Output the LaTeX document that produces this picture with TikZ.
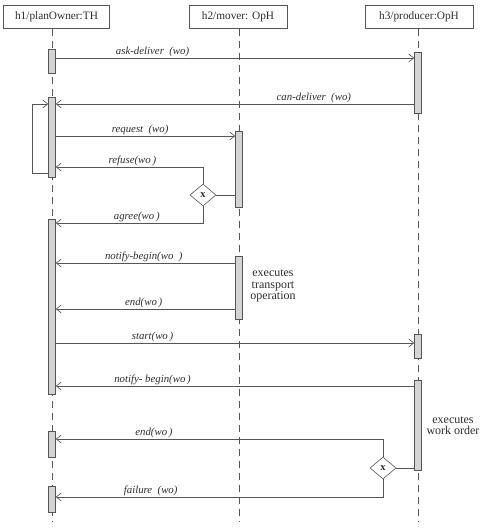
\documentclass[tikz,border=0pt]{standalone}
\usepackage{fontspec}
\setmainfont{Liberation Serif}
\usetikzlibrary{arrows.meta,shapes.geometric}
\definecolor{ln}{RGB}{85,85,85}
\definecolor{txt}{RGB}{45,45,45}
\definecolor{barfill}{RGB}{212,212,212}
\tikzset{
  hdr/.style={draw=ln, line width=0.7pt, inner sep=0pt, minimum height=23pt, font=\fontsize{11.3}{13}\selectfont, text=txt},
  life/.style={draw=ln, line width=0.7pt, dash pattern=on 7pt off 5pt},
  actbar/.style={draw=ln, fill=barfill, line width=0.6pt, minimum width=7pt, inner sep=0pt},
  msg/.style={draw=ln, line width=0.6pt, -{Straight Barb[length=5pt,width=8pt]}},
  plain/.style={draw=ln, line width=0.6pt},
  lbl/.style={font=\itshape\fontsize{10.8}{12}\selectfont, text=txt, inner sep=1pt},
  note/.style={font=\fontsize{12}{13}\selectfont, text=txt, align=center},
  choice/.style={shape=diamond, draw=ln, fill=white, line width=0.6pt, inner sep=0pt, minimum width=26pt, minimum height=22pt, font=\bfseries\fontsize{10.5}{10}\selectfont, text=txt}
}
\begin{document}
\begin{tikzpicture}[x=1pt,y=-1pt]
\useasboundingbox (0,0) rectangle (482,528);
% headers
\node[hdr, minimum width=106pt] (h1) at (56.5,17) {h1/planOwner:TH};
\node[hdr, minimum width=98pt] (h2) at (238,17) {h2/mover: OpH};
\node[hdr, minimum width=108pt] (h3) at (419,17) {h3/producer:OpH};
% lifeline ends
\coordinate (e1) at (52,522);
\coordinate (e2) at (239,522);
\coordinate (e3) at (418,522);
\draw[life] (h1.south -| e1) -- (e1);
\draw[life] (h2.south -| e2) -- (e2);
\draw[life] (h3.south -| e3) -- (e3);
% activation bars
\node[actbar, minimum height=24pt] (a1) at (52,61) {};
\node[actbar, minimum height=80pt] (a2) at (52,137) {};
\node[actbar, minimum height=175pt] (a3) at (52,306.5) {};
\node[actbar, minimum height=26pt] (a4) at (52,444) {};
\node[actbar, minimum height=26pt] (a5) at (52,499) {};
\node[actbar, minimum height=76pt] (b1) at (239,169) {};
\node[actbar, minimum height=63pt] (b2) at (239,287.5) {};
\node[actbar, minimum height=61pt] (c1) at (418,82.5) {};
\node[actbar, minimum height=24pt] (c2) at (418,346) {};
\node[actbar, minimum height=90pt] (c3) at (418,425) {};
% message rows
\coordinate (y1) at (0,58);
\coordinate (y2) at (0,104);
\coordinate (y3) at (0,136);
\coordinate (y4) at (0,167);
\coordinate (y5) at (0,223);
\coordinate (y6) at (0,263);
\coordinate (y7) at (0,309);
\coordinate (y8) at (0,343);
\coordinate (y9) at (0,386);
\coordinate (y10) at (0,439);
\coordinate (y11) at (0,497);
\coordinate (yl) at (0,173);
\coordinate (lx) at (32,0);
% choices
\node[choice] (d1) at (203,195) {x};
\node[choice] (d2) at (383,468) {x};
% messages
\draw[msg] (a1.east |- y1) -- node[lbl, above, pos=0.27] {ask-deliver~ (wo)} (c1.west |- y1);
\draw[msg] (c1.west |- y2) -- node[lbl, above, pos=0.28] {can-deliver~ (wo)} (a2.east |- y2);
\draw[msg] (a2.west |- yl) -- (lx |- yl) -- (lx |- y2) -- (a2.west |- y2);
\draw[msg] (a2.east |- y3) -- node[lbl, above, pos=0.47] {request~ (wo)} (b1.west |- y3);
\draw[plain] (d1.east) -- (b1.west |- d1.east);
\draw[msg] (d1.north) -- (d1.north |- y4) -- node[lbl, above, pos=0.48] {refuse(wo\,)} (a2.east |- y4);
\draw[msg] (d1.south) -- (d1.south |- y5) -- node[lbl, above, pos=0.45] {agree(wo\,)} (a3.east |- y5);
\draw[msg] (b2.west |- y6) -- node[lbl, above, pos=0.51] {notify-begin(wo~ )} (a3.east |- y6);
\draw[msg] (b2.west |- y7) -- node[lbl, above, pos=0.51] {end(wo\,)} (a3.east |- y7);
\draw[msg] (a3.east |- y8) -- node[lbl, above, pos=0.27] {start(wo\,)} (c2.west |- y8);
\draw[msg] (c3.west |- y9) -- node[lbl, above, pos=0.73] {notify- begin(wo\,)} (a3.east |- y9);
\draw[plain] (d2.east) -- (c3.west |- d2.east);
\draw[msg] (d2.north) -- (d2.north |- y10) -- node[lbl, above, pos=0.7] {end(wo\,)} (a4.east |- y10);
\draw[msg] (d2.south) -- (d2.south |- y11) -- node[lbl, above, pos=0.71] {failure~ (wo)} (a5.east |- y11);
% notes
\node[note] (n1) at (273,286) {executes\\[-1.5pt]transport\\[-1.5pt]operation};
\node[note] (n2) at (453,425.5) {executes\\[-1.5pt]work order};
\end{tikzpicture}
\end{document}
